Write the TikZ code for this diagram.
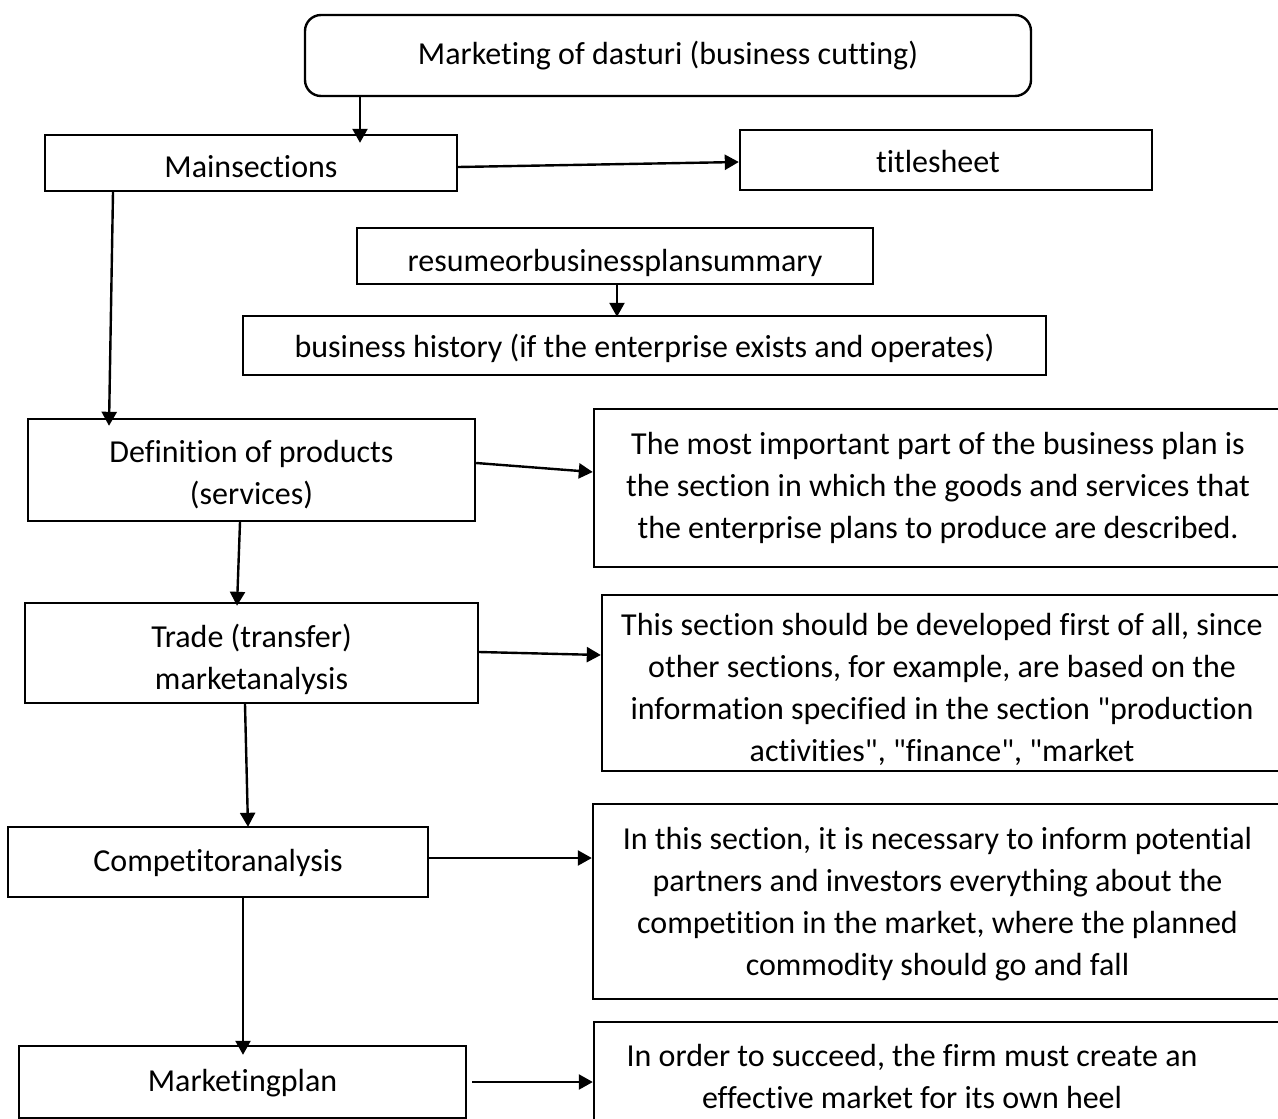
\documentclass[tikz,border=0pt]{standalone}
\usepackage{fontspec}
\setmainfont{Carlito}[Ligatures={TeXOff,CommonOff}]
\usetikzlibrary{arrows.meta}
\begin{document}
\begin{tikzpicture}[x=1pt,y=-1pt,
  box/.style={draw=black, line width=2.4pt, inner sep=0pt},
  txt/.style={inner sep=0pt, align=center, font=\fontsize{32}{42}\selectfont},
  arr/.style={line width=2.4pt, -{Triangle[length=14pt,width=15pt]}}]
\useasboundingbox (0,0) rectangle (1278,1119);
\clip (0,0) rectangle (1278,1119);

% header and the main column
\node[box, rounded corners=16pt, minimum width=726pt, minimum height=81pt] (top) at (668,55.5) {};
\node[txt] (top-t) at (top.center) {Marketing of dasturi (business cutting)};

\node[box, minimum width=412pt, minimum height=56pt] (main) at (251,163) {};
\node[txt] (main-t) at ([yshift=-4pt]main.center) {Mainsections};

\node[box, minimum width=412pt, minimum height=60pt] (title) at (946,160) {};
\node[txt] (title-t) at ([xshift=-8pt,yshift=-2pt]title.center) {titlesheet};

\node[box, minimum width=516pt, minimum height=56pt] (resume) at (615,256) {};
\node[txt] (resume-t) at ([yshift=-7pt]resume.center) {resumeorbusinessplansummary};

\node[box, minimum width=803pt, minimum height=59pt] (history) at (644.5,345.5) {};
\node[txt] (history-t) at ([yshift=-3pt]history.center)
  {business history (if the enterprise exists and operates)};

\node[box, minimum width=447pt, minimum height=102pt] (def) at (251.5,470) {};
\node[txt] (def-t) at ([yshift=-5pt]def.center) {Definition of products\\(services)};

\node[box, minimum width=453pt, minimum height=100pt] (trade) at (251.5,653) {};
\node[txt] (trade-t) at ([yshift=-6pt]trade.center) {Trade (transfer)\\marketanalysis};

\node[box, minimum width=420pt, minimum height=70pt] (comp) at (218,862) {};
\node[txt] (comp-t) at ([yshift=-1pt]comp.center) {Competitoranalysis};

\node[box, minimum width=447pt, minimum height=72pt] (mplan) at (242.5,1082) {};
\node[txt] (mplan-t) at ([yshift=-1pt]mplan.center) {Marketingplan};

% explanatory boxes on the right
\node[box, minimum width=688pt, minimum height=158pt] (r1) at (938,488) {};
\node[txt] (r1-t) at (r1.center)
  {The most important part of the business plan is\\
   the section in which the goods and services that\\
   the enterprise plans to produce are described.};

\node[box, minimum width=680pt, minimum height=176pt] (r2) at (942,683) {};
\node[txt] (r2-t) at ([yshift=-6pt]r2.center)
  {This section should be developed first of all, since\\
   other sections, for example, are based on the\\
   information specified in the section "production\\
   activities", "finance", "market};

\node[box, minimum width=689pt, minimum height=195pt] (r3) at (937.5,901.5) {};
\node[txt] (r3-t) at ([yshift=-3pt]r3.center)
  {In this section, it is necessary to inform potential\\
   partners and investors everything about the\\
   competition in the market, where the planned\\
   commodity should go and fall};

\node[box, minimum width=688pt, minimum height=108pt] (r4) at (938,1076) {};
\node[txt] (r4-t) at ([xshift=-26pt]r4.center)
  {In order to succeed, the firm must create an\\
   effective market for its own heel};

% connectors
\draw[arr] ([xshift=-308pt]top.south) -- ([xshift=109pt,yshift=-9pt]main.north);
\draw[arr] ([yshift=-4pt]main.east) -- ([yshift=-2pt]title.west);
\draw[arr] ([xshift=2pt]resume.south) -- ([xshift=-27.5pt,yshift=-2pt]history.north);
\draw[arr] ([xshift=-138pt]main.south) -- ([xshift=-142.5pt,yshift=-8pt]def.north);
\draw[arr] ([yshift=7pt]def.east) -- ([yshift=16pt]r1.west);
\draw[arr] ([xshift=-11.5pt]def.south) -- ([xshift=-14.5pt,yshift=-4pt]trade.north);
\draw[arr] ([yshift=1pt]trade.east) -- ([yshift=28pt]r2.west);
\draw[arr] ([xshift=-6.5pt]trade.south) -- ([xshift=30pt,yshift=-1pt]comp.north);
\draw[arr] ([yshift=4pt]comp.east) -- ([yshift=43.5pt]r3.west);
\draw[arr] ([xshift=25pt]comp.south) -- ([xshift=0.5pt,yshift=-10pt]mplan.north);
\draw[arr] ([xshift=5pt]mplan.east) -- ([yshift=-6pt]r4.west);
\end{tikzpicture}
\end{document}
